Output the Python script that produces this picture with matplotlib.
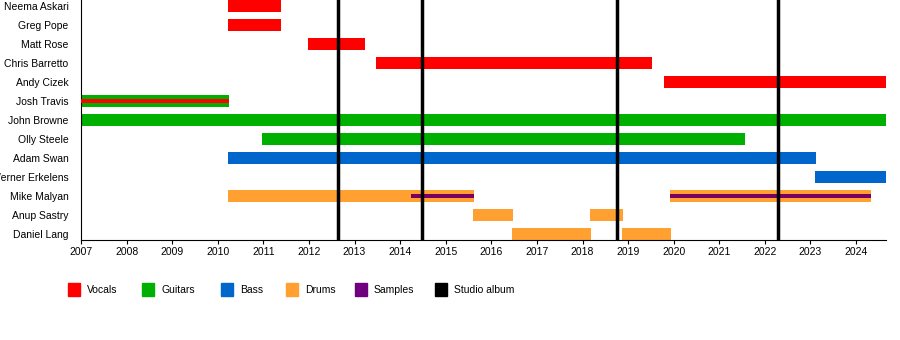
import matplotlib
matplotlib.use('Agg')
import matplotlib.pyplot as plt
from matplotlib.patches import Rectangle

plt.rcParams['font.family'] = ['Liberation Sans', 'DejaVu Sans']

# members, top to bottom
members = ['Neema Askari', 'Greg Pope', 'Matt Rose', 'Chris Barretto', 'Andy Cizek',
           'Josh Travis', 'John Browne', 'Olly Steele', 'Adam Swan', 'Werner Erkelens',
           'Mike Malyan', 'Anup Sastry', 'Daniel Lang']

END = 2024.65

# (member, start, end, role)
main_bars = [
    ('Neema Askari', 2010.22, 2011.39, 'Vocals'),
    ('Greg Pope', 2010.22, 2011.39, 'Vocals'),
    ('Matt Rose', 2011.98, 2013.22, 'Vocals'),
    ('Chris Barretto', 2013.47, 2019.52, 'Vocals'),
    ('Andy Cizek', 2019.78, END, 'Vocals'),
    ('Josh Travis', 2007.0, 2010.25, 'Guitars'),
    ('John Browne', 2007.0, END, 'Guitars'),
    ('Olly Steele', 2010.97, 2021.56, 'Guitars'),
    ('Adam Swan', 2010.22, 2023.12, 'Bass'),
    ('Werner Erkelens', 2023.1, END, 'Bass'),
    ('Mike Malyan', 2010.22, 2015.62, 'Drums'),
    ('Mike Malyan', 2019.92, 2024.32, 'Drums'),
    ('Anup Sastry', 2015.6, 2016.47, 'Drums'),
    ('Anup Sastry', 2018.16, 2018.89, 'Drums'),
    ('Daniel Lang', 2016.45, 2018.18, 'Drums'),
    ('Daniel Lang', 2018.86, 2019.94, 'Drums'),
]

# thin stripes for secondary roles
stripe_bars = [
    ('Josh Travis', 2007.0, 2010.25, 'Vocals'),
    ('Mike Malyan', 2014.24, 2015.62, 'Samples'),
    ('Mike Malyan', 2019.92, 2024.32, 'Samples'),
]

albums = [2012.64, 2014.47, 2018.76, 2022.29]

colors = {
    'Vocals': '#ff0000',
    'Guitars': '#00b000',
    'Bass': '#0066cc',
    'Drums': '#ffa030',
    'Samples': '#7a0060',
    'Studio album': '#000000',
}
legend_colors = dict(colors)
legend_colors['Samples'] = '#700080'

fig = plt.figure(figsize=(9, 3.4), dpi=100)
ax = fig.add_axes([81 / 900, 1 - 240 / 340, (885.7 - 81) / 900, 240 / 340])

for name, s, e, role in main_bars:
    ax.barh(members.index(name), e - s, left=s, height=0.63,
            color=colors[role], zorder=2)
for name, s, e, role in stripe_bars:
    ax.barh(members.index(name), e - s, left=s, height=0.26,
            color=colors[role], zorder=3)
for a in albums:
    ax.axvline(a, color='black', lw=2.5, zorder=4)

ax.set_xlim(2007, END)
ax.set_ylim(12.316, -0.316)
ax.set_yticks(range(len(members)))
ax.set_yticklabels(members, fontsize=7.5)
ax.tick_params(axis='y', length=0, pad=9)
ax.set_xticks(range(2007, 2025))
ax.set_xticklabels([str(y) for y in range(2007, 2025)], fontsize=7.5)
ax.tick_params(axis='x', length=3, pad=2)
ax.spines['top'].set_visible(False)
ax.spines['right'].set_visible(False)

# legend row
legend_x = [68, 142, 221, 286, 355, 435]
for (label, c), lx in zip(legend_colors.items(), legend_x):
    fig.patches.append(Rectangle((lx / 900, 1 - 296 / 340), 12 / 900, 13 / 340,
                                 transform=fig.transFigure, color=c))
    fig.text((lx + 19) / 900, 1 - 290 / 340, label, fontsize=7.5, va='center')

fig.savefig('out.png', dpi=100)
